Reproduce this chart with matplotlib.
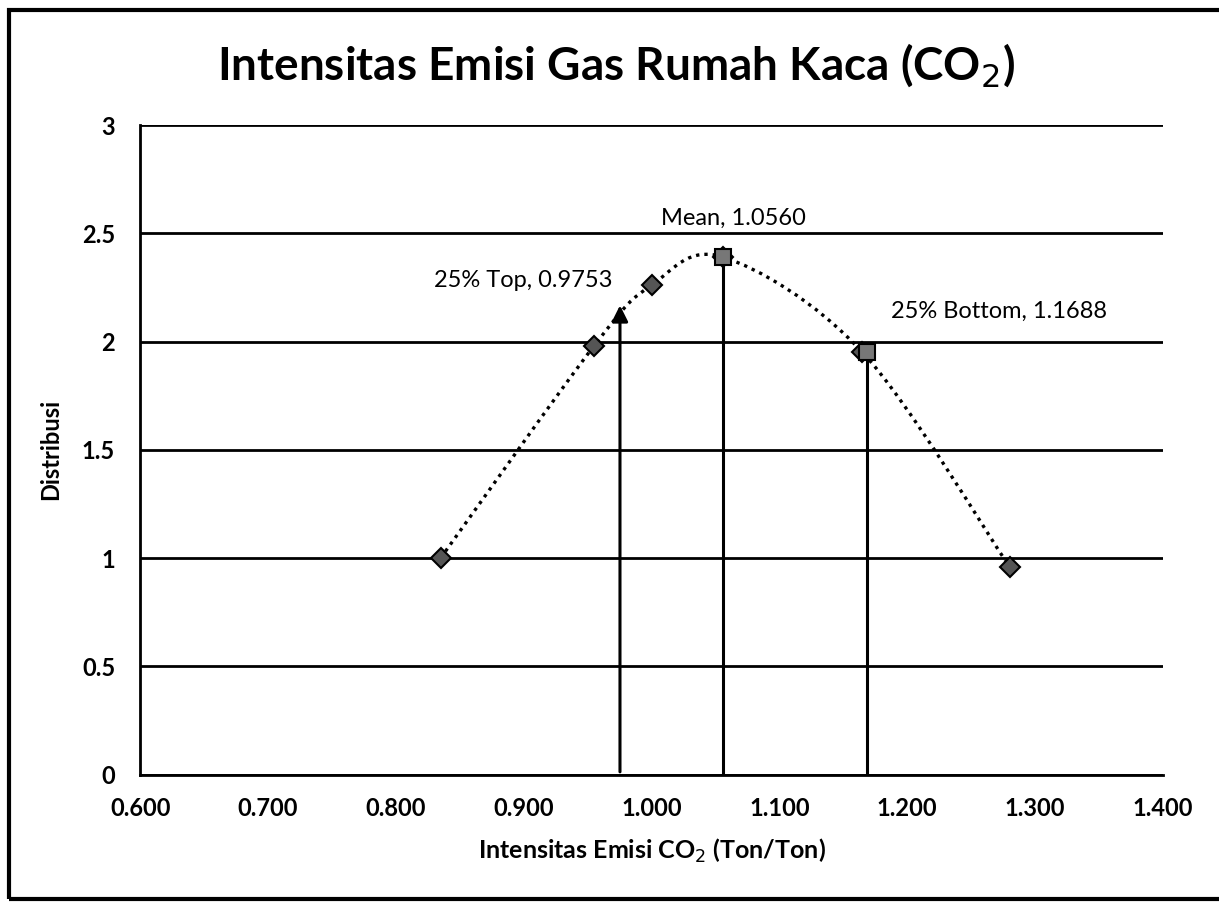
import numpy as np
import matplotlib
matplotlib.use("Agg")
import matplotlib.pyplot as plt
from matplotlib.path import Path
from matplotlib.patches import PathPatch, Rectangle

# data
curve_x = [0.835, 0.955, 1.000, 1.056, 1.165, 1.280]
curve_y = [1.00, 1.98, 2.26, 2.39, 1.95, 0.96]

stat_names = ["25% Top", "Mean", "25% Bottom"]
stat_x = [0.9753, 1.0560, 1.1688]
stat_y = [2.18, 2.39, 1.95]
label_x = [0.900, 1.064, 1.272]
label_y = [2.28, 2.57, 2.14]

plt.rcParams["font.family"] = ["Lato", "DejaVu Sans"]

fig = plt.figure(figsize=(12.19, 9.06), dpi=100)
ax = fig.add_axes([0.115, 0.145, 0.839, 0.717])

# smooth line like Excel (Catmull-Rom -> cubic bezier through the points)
pts = np.column_stack([curve_x, curve_y])
verts = [pts[0]]
codes = [Path.MOVETO]
for i in range(len(pts) - 1):
    p0 = pts[max(i - 1, 0)]
    p1, p2 = pts[i], pts[i + 1]
    p3 = pts[min(i + 2, len(pts) - 1)]
    verts += [p1 + (p2 - p0) / 6, p2 - (p3 - p1) / 6, p2]
    codes += [Path.CURVE4] * 3
ax.add_patch(PathPatch(Path(verts, codes), fill=False, ec="black",
                       lw=2.4, ls=(0, (1.0, 1.5)), zorder=3))
ax.plot(curve_x, curve_y, ls="none", marker="D", ms=10, mfc="#555555",
        mec="black", mew=1.5, zorder=4)

# vertical lines for the statistics (only the first one shows its arrowhead)
ax.annotate("", xy=(stat_x[0], stat_y[0]), xytext=(stat_x[0], 0),
            arrowprops=dict(arrowstyle="-|>", color="black", lw=2.2,
                            mutation_scale=24), zorder=5)
ax.vlines(stat_x[1:], 0, stat_y[1:], color="black", lw=2.2, zorder=5)
ax.plot(stat_x[1:], stat_y[1:], ls="none", marker="s", ms=11, mfc="#777777",
        mec="black", mew=1.5, zorder=6)
for i in range(len(stat_x)):
    ax.text(label_x[i], label_y[i], f"{stat_names[i]}, {stat_x[i]:.4f}",
            ha="center", va="center", fontsize=17, zorder=6)

ax.set_xlim(0.6, 1.4)
ax.set_ylim(0, 3)
xt = np.arange(0.6, 1.41, 0.1)
ax.set_xticks(xt)
ax.set_xticklabels([f"{v:.3f}" for v in xt])
ax.set_yticks([0, 0.5, 1, 1.5, 2, 2.5, 3])
ax.set_yticklabels(["0", "0.5", "1", "1.5", "2", "2.5", "3"])
ax.tick_params(length=0, labelsize=17)
ax.tick_params(axis="x", pad=16)
ax.tick_params(axis="y", pad=18)
for lab in ax.get_xticklabels() + ax.get_yticklabels():
    lab.set_fontweight("bold")
ax.yaxis.grid(True, color="black", lw=2)
ax.set_axisbelow(True)
for s in ["top", "right"]:
    ax.spines[s].set_visible(False)
ax.spines["left"].set_linewidth(2)
ax.spines["bottom"].set_linewidth(2)

ax.set_xlabel("Intensitas Emisi CO$_2$ (Ton/Ton)", fontsize=18,
              fontweight="bold", labelpad=12)
ax.set_ylabel("Distribusi", fontsize=17, fontweight="bold", labelpad=14)
fig.text(0.505, 0.928, "Intensitas Emisi Gas Rumah Kaca (CO$_2$)",
         ha="center", va="center", fontsize=33, fontweight="bold")

# outer chart frame (right edge runs off the scan)
fig.add_artist(Rectangle((0.007, 0.008), 1.0, 0.981, transform=fig.transFigure,
                         fill=False, ec="black", lw=3))

fig.savefig("out.png", dpi=100)
